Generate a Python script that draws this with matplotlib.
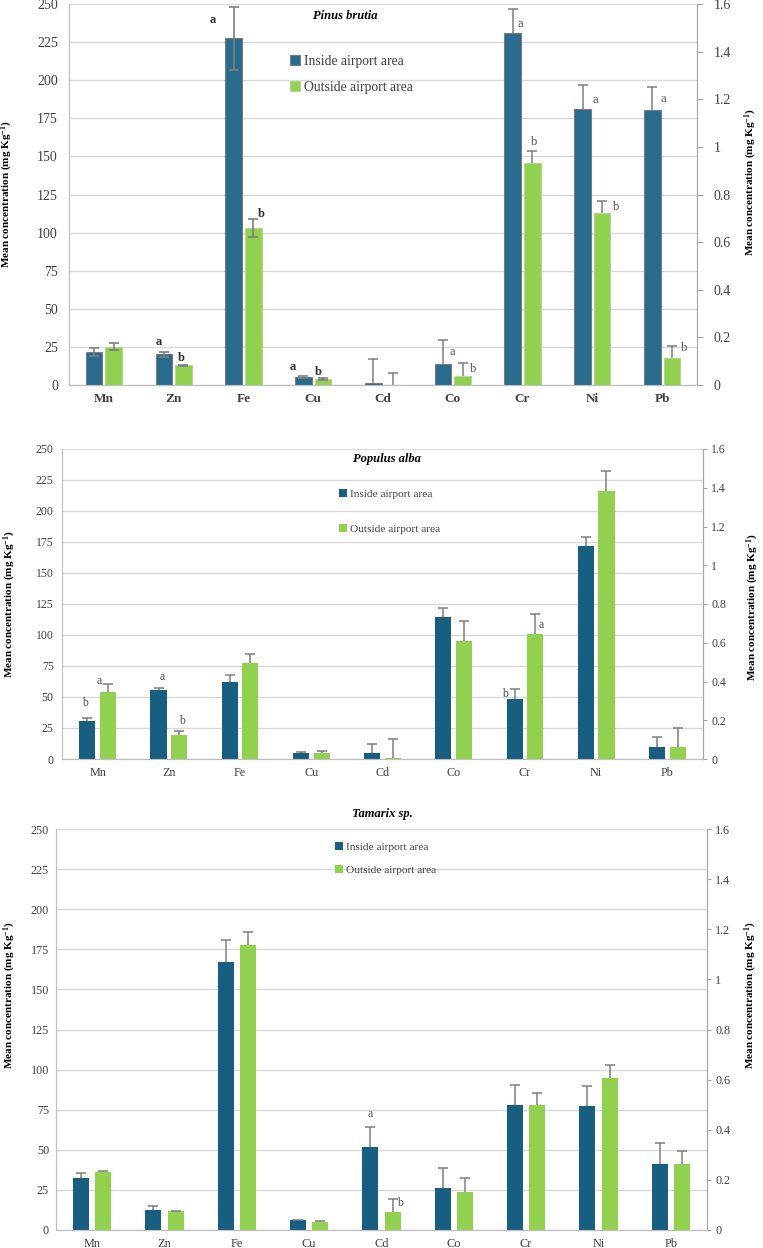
import numpy as np
import matplotlib
matplotlib.use("Agg")
import matplotlib.pyplot as plt

plt.rcParams['font.family'] = ['Liberation Serif', 'DejaVu Serif']
plt.rcParams['mathtext.fontset'] = 'custom'
plt.rcParams['mathtext.rm'] = 'Liberation Serif'
plt.rcParams['mathtext.bf'] = 'Liberation Serif:bold'
plt.rcParams['mathtext.it'] = 'Liberation Serif:italic'

# ---------------- data ----------------
categories = ['Mn', 'Zn', 'Fe', 'Cu', 'Cd', 'Co', 'Cr', 'Ni', 'Pb']
n_major = 4  # Mn..Cu on left axis (0-250), Cd..Pb on right axis (0-1.6)
series_names = ['Inside airport area', 'Outside airport area']

pinus_in_mean = [21.5, 20.1, 227.5, 5.2, 0.01, 0.09, 1.48, 1.16, 1.155]
pinus_in_err = [2.5, 1.7, 20.7, 0.5, 0.10, 0.10, 0.10, 0.10, 0.097]
pinus_out_mean = [25.1, 12.9, 103.2, 3.9, 0.002, 0.039, 0.934, 0.721, 0.112]
pinus_out_err = [2.2, 0.5, 6.0, 0.4, 0.05, 0.052, 0.05, 0.053, 0.052]
pinus_in_letters = ['', 'a', 'a', 'a', '', 'a', 'a', 'a', 'a']
pinus_out_letters = ['', 'b', 'b', 'b', '', 'b', 'b', 'b', 'b']

populus_in_mean = [30.6, 55.6, 62.4, 5.1, 0.03, 0.731, 0.308, 1.098, 0.06]
populus_in_err = [2.2, 1.9, 5.3, 0.8, 0.05, 0.047, 0.052, 0.05, 0.052]
populus_out_mean = [53.8, 19.4, 77.2, 5.1, 0.004, 0.607, 0.647, 1.383, 0.06]
populus_out_err = [6.7, 3.2, 7.2, 1.4, 0.10, 0.105, 0.10, 0.103, 0.098]
populus_in_letters = ['b', 'a', '', '', '', '', 'b', '', '']
populus_out_letters = ['a', 'b', '', '', '', '', 'a', '', '']

tamarix_in_mean = [32.2, 12.7, 166.9, 6.0, 0.33, 0.169, 0.498, 0.495, 0.265]
tamarix_in_err = [3.1, 2.3, 14.1, 0.4, 0.08, 0.08, 0.08, 0.08, 0.083]
tamarix_out_mean = [36.4, 11.6, 177.9, 5.2, 0.073, 0.153, 0.498, 0.608, 0.263]
tamarix_out_err = [0.4, 0.3, 8.1, 0.6, 0.052, 0.053, 0.05, 0.05, 0.053]
tamarix_in_letters = ['', '', '', '', 'a', '', '', '', '']
tamarix_out_letters = ['', '', '', '', 'b', '', '', '', '']

left_ticks = list(range(0, 251, 25))
right_ticks = [0, 0.2, 0.4, 0.6, 0.8, 1.0, 1.2, 1.4, 1.6]

# ---------------- style / layout ----------------
W, H = 763, 1248
DPI = 100
GREEN = '#92D050'
GRID = '#d9d9d9'
SPINE = '#bfbfbf'
ERRC = '#7f7f7f'
TXT = '#404040'
ylabel = 'Mean concentration (mg Kg$^{\\mathbf{-1}}$)'

panels = [
    dict(title='Pinus brutia', rect=(69, 4, 697, 385),
         means=(pinus_in_mean, pinus_out_mean), errs=(pinus_in_err, pinus_out_err),
         letters=(pinus_in_letters, pinus_out_letters),
         offs={(0, 1): (-5, 10), (0, 2): (-21, -13), (0, 3): (-11, 9), (0, 5): (9, -12),
               (0, 6): (8, -15), (0, 7): (13, -15), (0, 8): (11, -12),
               (1, 1): (-2, 7), (1, 2): (8, 5), (1, 3): (-5, 6), (1, 5): (11, -6),
               (1, 6): (2, 9), (1, 7): (14, -6), (1, 8): (12, -2)},
         inside='#286B8C', edge=('#7a7a7a', '#b5d98e'), width=0.24, off=0.14,
         symmetric=True, tick_fs=10, cat_fs=9.5, cat_bold=True, lab_fs=8,
         lpad=8, rpad=8, rtick=4,
         title_xy=(0.44, 0.969), leg_xy=(0.352, 0.866), leg_fs=9.8, leg_sp=0.95,
         ylab_left=(-0.086, 0.5), ylab_right=(1.073, 0.533), letter_fs=9),
    dict(title='Populus alba', rect=(62, 449, 703, 759),
         means=(populus_in_mean, populus_out_mean), errs=(populus_in_err, populus_out_err),
         letters=(populus_in_letters, populus_out_letters),
         offs={(0, 0): (-2, 15), (0, 1): (4, 11), (0, 6): (-10, -5),
               (1, 0): (-9, 3), (1, 1): (3, 10), (1, 6): (6, -11)},
         inside='#175E80', edge=(None, None), width=0.225, off=0.145,
         symmetric=False, tick_fs=8.5, cat_fs=8.7, cat_bold=False, lab_fs=8,
         lpad=6, rpad=3, rtick=3,
         title_xy=(0.507, 0.968), leg_xy=(0.432, 0.872), leg_fs=8.2, leg_sp=2.2,
         ylab_left=(-0.0686, 0.5), ylab_right=(1.0655, 0.49), letter_fs=8.5),
    dict(title='Tamarix sp.', rect=(56, 829, 707, 1230),
         means=(tamarix_in_mean, tamarix_out_mean), errs=(tamarix_in_err, tamarix_out_err),
         letters=(tamarix_in_letters, tamarix_out_letters),
         offs={(0, 4): (0, 13), (1, 4): (7, -4)},
         inside='#175E80', edge=(None, None), width=0.22, off=0.155,
         symmetric=False, tick_fs=8.7, cat_fs=8.8, cat_bold=False, lab_fs=8,
         lpad=5, rpad=3, rtick=3,
         title_xy=(0.502, 1.038), leg_xy=(0.428, 0.968), leg_fs=8.2, leg_sp=1.15,
         ylab_left=(-0.059, 0.586), ylab_right=(1.0553, 0.586), letter_fs=8.5),
]

fig = plt.figure(figsize=(W / DPI, H / DPI), dpi=DPI)

for p in panels:
    l, t, r, b = p['rect']
    ax = fig.add_axes([l / W, 1 - b / H, (r - l) / W, (b - t) / H])
    ax2 = ax.twinx()
    ax.set_xlim(-0.5, len(categories) - 0.5)
    ax.set_ylim(0, 250)
    ax2.set_ylim(0, 1.6)
    ax.set_axisbelow(True)
    ax.yaxis.grid(True, color=GRID, lw=1.0)
    ax.set_yticks(left_ticks)
    ax2.set_yticks(right_ticks)
    ax2.set_yticklabels([f'{v:g}' for v in right_ticks])
    ax.tick_params(axis='y', length=0, labelsize=p['tick_fs'], labelcolor=TXT, pad=p['lpad'])
    ax2.tick_params(axis='y', length=p['rtick'], color='#a6a6a6', labelsize=p['tick_fs'],
                    labelcolor=TXT, pad=p['rpad'])
    ax.set_xticks(range(len(categories)))
    ax.set_xticklabels(categories, fontsize=p['cat_fs'], color=TXT,
                       fontweight='bold' if p['cat_bold'] else 'normal')
    ax.tick_params(axis='x', length=0, pad=6)
    for a in (ax, ax2):
        a.spines['top'].set_visible(False)
        for s in ('left', 'right', 'bottom'):
            a.spines[s].set_color(SPINE)
    ax2.spines['right'].set_color('#a6a6a6')

    x = np.arange(len(categories))
    colors = [p['inside'], GREEN]
    handles = []
    for si in range(2):
        mean = np.array(p['means'][si], dtype=float)
        err = np.array(p['errs'][si], dtype=float)
        xs = x + (-p['off'] if si == 0 else p['off'])
        ec = p['edge'][si]
        for target, idx in ((ax, slice(0, n_major)), (ax2, slice(n_major, None))):
            bars = target.bar(xs[idx], mean[idx], width=p['width'], color=colors[si],
                              edgecolor=ec if ec else 'none', linewidth=0.8 if ec else 0,
                              zorder=2, label=series_names[si])
            if target is ax:
                handles.append(bars)
            if p['symmetric'] and target is ax:
                target.errorbar(xs[idx], mean[idx], yerr=err[idx], fmt='none',
                                ecolor=ERRC, elinewidth=1.2, capsize=3.5, capthick=1.2,
                                zorder=3)
            else:
                target.vlines(xs[idx], mean[idx], mean[idx] + err[idx], color=ERRC,
                              lw=1.1, zorder=3)
                target.plot(xs[idx], mean[idx] + err[idx], ls='none', marker='_',
                            ms=6.5, mew=1.1, color=ERRC, zorder=3)
        # letters
        for i, letter in enumerate(p['letters'][si]):
            if not letter:
                continue
            target = ax if i < n_major else ax2
            dx, dy = p['offs'].get((si, i), (8, 0))
            bold = p['cat_bold'] and i < n_major
            target.annotate(letter, xy=(xs[i], mean[i] + err[i]), xycoords='data',
                            xytext=(dx, dy), textcoords='offset pixels',
                            ha='center', va='center', fontsize=p['letter_fs'],
                            color='#303030' if bold else '#505050',
                            fontweight='bold' if bold else 'normal', zorder=5)

    ax.set_ylabel(ylabel, fontsize=p['lab_fs'], fontweight='bold', color='black')
    ax.yaxis.set_label_coords(*p['ylab_left'])
    ax2.set_ylabel(ylabel, fontsize=p['lab_fs'], fontweight='bold', color='black')
    ax2.yaxis.set_label_coords(*p['ylab_right'])

    ax2.text(p['title_xy'][0], p['title_xy'][1], p['title'], transform=ax.transAxes,
             ha='center', va='center', fontsize=9, fontweight='bold', style='italic',
             color='black')

    ax2.legend(handles, series_names, loc='upper left', bbox_to_anchor=p['leg_xy'],
               frameon=False, fontsize=p['leg_fs'], handlelength=0.75, handleheight=0.75,
               handletextpad=0.25, borderpad=0, borderaxespad=0,
               labelspacing=p['leg_sp'], labelcolor=TXT)

fig.savefig('out.png', dpi=DPI)
